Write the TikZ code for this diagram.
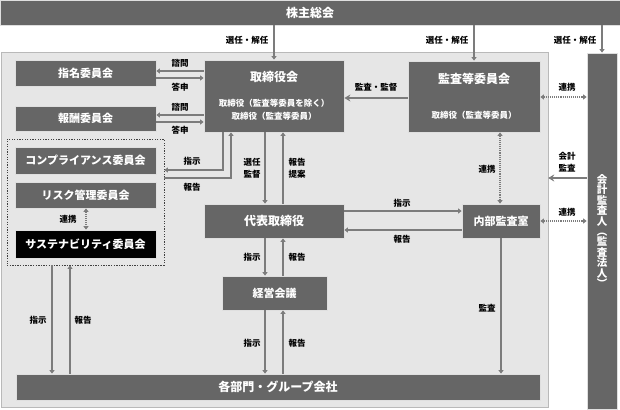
\documentclass[tikz,border=0pt]{standalone}
\usepackage{fontspec}
\setmainfont{Noto Sans CJK JP}
\usetikzlibrary{arrows.meta}
\definecolor{boxgray}{HTML}{666666}
\definecolor{linegray}{HTML}{7C7C7C}
\definecolor{panelgray}{HTML}{E6E6E6}

\begin{document}
\begin{tikzpicture}[x=1pt,y=-1pt]
\tikzstyle{box} = [draw=gray!25, line width=.8pt, fill=boxgray, text=white, inner sep=0pt, font=\bfseries\fontsize{11}{13}\selectfont]
\tikzstyle{lbl} = [inner sep=0pt, align=center, font=\bfseries\fontsize{8.5}{12}\selectfont]
\tikzstyle{conn} = [draw=linegray, line width=1.1pt, -{Triangle[width=5pt,length=3.5pt]}]
\tikzstyle{audit} = [draw=linegray, line width=1.1pt, -{Stealth[width=7pt,length=6pt]}]
\tikzstyle{link} = [draw=linegray, line width=1.1pt, densely dotted, {Triangle[width=5pt,length=3.5pt]}-{Triangle[width=5pt,length=3.5pt]}]
\useasboundingbox (0,0) rectangle (620,409);

% background panel and outside parties
\node [draw=gray!55, fill=panelgray, inner sep=0pt, minimum width=547pt, minimum height=355pt] (panel) at (274.5,229.5) {};
\node [box, minimum width=620pt, minimum height=25pt, font=\bfseries\fontsize{12}{14}\selectfont] (soukai) at (310,12.5) {株主総会};
\node [box, minimum width=30pt, minimum height=356pt, align=center, font=\bfseries\fontsize{10.5}{10.4}\selectfont] (kaikei) at (602,231) {会\\計\\監\\査\\人\\︵\\監\\査\\法\\人\\︶};

% committees
\node [box, minimum width=141pt, minimum height=26pt] (shimei) at (85.5,73) {指名委員会};
\node [box, minimum width=141pt, minimum height=25pt] (houshu) at (85.5,118.5) {報酬委員会};
\node [draw=black!75, line width=.9pt, dash pattern=on 1.3pt off 1.3pt, inner sep=0pt, minimum width=157pt, minimum height=126pt] (iinkai) at (85.5,202) {};
\node [box, minimum width=141pt, minimum height=27pt] (compliance) at (85.5,160.5) {コンプライアンス委員会};
\node [box, minimum width=141pt, minimum height=26pt] (risk) at (85.5,195) {リスク管理委員会};
\node [box, fill=black, minimum width=141pt, minimum height=28pt] (sustain) at (85.5,244) {サステナビリティ委員会};

% boards
\node [box, minimum width=140pt, minimum height=72pt, align=center, font=\bfseries\fontsize{8.5}{13}\selectfont] (bod) at (274,96)
  {{\fontsize{12}{14}\selectfont 取締役会}\\[12pt]取締役（監査等委員を除く）\\取締役（監査等委員）};
\node [box, minimum width=132pt, minimum height=71pt, align=center, font=\bfseries\fontsize{8.5}{13}\selectfont] (kansa) at (474,96.5)
  {{\fontsize{12}{14}\selectfont 監査等委員会}\\[22pt]取締役（監査等委員）};
\node [box, minimum width=140pt, minimum height=34pt, font=\bfseries\fontsize{12}{14}\selectfont] (ceo) at (274,221) {代表取締役};
\node [box, minimum width=78pt, minimum height=34pt] (naibu) at (501,221) {内部監査室};
\node [box, minimum width=105pt, minimum height=34pt] (keiei) at (274.5,293) {経営会議};
\node [box, minimum width=524pt, minimum height=26pt, font=\bfseries\fontsize{12}{14}\selectfont] (bumon) at (278,387) {各部門・グループ会社};

% from the shareholders
\draw [conn] (soukai.south -| bod.north) -- (bod.north);
\draw [conn] (soukai.south -| kansa.north) -- (kansa.north);
\draw [conn] (soukai.south -| kaikei.north) -- (kaikei.north);
\node [lbl] (sen1) at (247,40) {選任・解任};
\node [lbl] (sen2) at (447,40) {選任・解任};
\node [lbl] (sen3) at (575,40) {選任・解任};

% board and committees
\draw [conn] (bod.west |- 0,71) -- (shimei.east |- 0,71);
\draw [conn] (shimei.east |- 0,78) -- (bod.west |- 0,78);
\draw [conn] (bod.west |- 0,115) -- (houshu.east |- 0,115);
\draw [conn] (houshu.east |- 0,122) -- (bod.west |- 0,122);
\node [lbl] (shimon1) at (180,63) {諮問};
\node [lbl] (toushin1) at (180,87) {答申};
\node [lbl] (shimon2) at (180,107) {諮問};
\node [lbl] (toushin2) at (180,130) {答申};
\draw [conn] (bod.south -| 223,0) |- (iinkai.east |- 0,170);
\draw [conn] (iinkai.east |- 0,178) -| (bod.south -| 231,0);
\node [lbl] (shiji1) at (192,161) {指示};
\node [lbl] (houkoku1) at (192,187) {報告};
\draw [link] (risk.south -| 86,0) -- (sustain.north -| 86,0);
\node [lbl] (renkei1) at (68,219) {連携};

% board and ceo
\draw [conn] (bod.south -| 265,0) -- (ceo.north -| 265,0);
\draw [conn] (ceo.north -| 283,0) -- (bod.south -| 283,0);
\node [lbl] (kantoku) at (252,168) {選任\\監督};
\node [lbl] (teian) at (297,168) {報告\\提案};
\draw [audit] (kansa.west |- 0,98) -- (bod.east |- 0,98);
\node [lbl] (kansakantoku) at (376,87) {監査・監督};

% audit side
\draw [link] (kansa.east |- 0,97) -- (kaikei.west |- 0,97);
\node [lbl] (renkei2) at (567,87) {連携};
\draw [link] (kansa.south -| 500,0) -- (naibu.north -| 500,0);
\node [lbl] (renkei3) at (487,169) {連携};
\draw [audit] (kaikei.west |- 0,178) -- (panel.east |- 0,178);
\node [lbl] (kaikeikansa) at (567,162) {会計\\監査};
\draw [link] (naibu.east) -- (kaikei.west |- naibu.east);
\node [lbl] (renkei4) at (567,212) {連携};
\draw [conn] (ceo.east |- 0,211) -- (naibu.west |- 0,211);
\draw [conn] (naibu.west |- 0,230) -- (ceo.east |- 0,230);
\node [lbl] (shiji2) at (402,203) {指示};
\node [lbl] (houkoku2) at (402,239) {報告};

% down to the divisions
\draw [conn] (ceo.south -| 265,0) -- (keiei.north -| 265,0);
\draw [conn] (keiei.north -| 283,0) -- (ceo.south -| 283,0);
\node [lbl] (shiji3) at (252,257) {指示};
\node [lbl] (houkoku3) at (297,257) {報告};
\draw [conn] (keiei.south -| 265,0) -- (bumon.north -| 265,0);
\draw [conn] (bumon.north -| 283,0) -- (keiei.south -| 283,0);
\node [lbl] (shiji4) at (252,343) {指示};
\node [lbl] (houkoku4) at (297,343) {報告};
\draw [conn] (iinkai.south -| 52,0) -- (bumon.north -| 52,0);
\draw [conn] (bumon.north -| 70,0) -- (iinkai.south -| 70,0);
\node [lbl] (shiji5) at (38,320) {指示};
\node [lbl] (houkoku5) at (83,320) {報告};
\draw [conn] (naibu.south) -- (bumon.north -| naibu.south);
\node [lbl] (kansa2) at (487,308) {監査};
\end{tikzpicture}
\end{document}
